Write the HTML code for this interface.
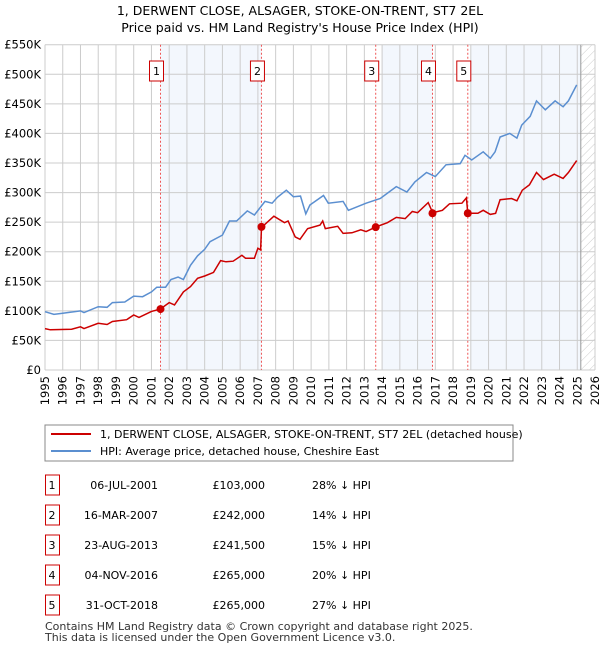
<!DOCTYPE html>
<html><head><meta charset="utf-8"><style>
body{margin:0;background:#fff;font-family:"Liberation Sans","DejaVu Sans",sans-serif;}
svg text{font-family:"DejaVu Sans","Liberation Sans",sans-serif;}
</style></head><body>
<svg id="c" width="600" height="650" xmlns="http://www.w3.org/2000/svg">
<defs><pattern id="hatch" width="6" height="6" patternUnits="userSpaceOnUse" patternTransform="rotate(45)"><line x1="0" y1="0" x2="0" y2="6" stroke="#ccc" stroke-width="1"/></pattern></defs>
<text x="300" y="15" text-anchor="middle" font-size="12.5" fill="#000">1, DERWENT CLOSE, ALSAGER, STOKE-ON-TRENT, ST7 2EL</text>
<text x="300" y="32" text-anchor="middle" font-size="12.5" fill="#000">Price paid vs. HM Land Registry's House Price Index (HPI)</text>
<g id="plot"></g>
<g>
<rect x="45" y="425" width="468" height="36" fill="#fff" stroke="#888"/>
<line x1="51" y1="434" x2="91" y2="434" stroke="#cc0000" stroke-width="2"/>
<text x="100" y="438" font-size="11">1, DERWENT CLOSE, ALSAGER, STOKE-ON-TRENT, ST7 2EL (detached house)</text>
<line x1="51" y1="451" x2="91" y2="451" stroke="#5b8fd0" stroke-width="2"/>
<text x="100" y="455" font-size="11">HPI: Average price, detached house, Cheshire East</text>
</g>
<g id="table"></g>
<text x="45" y="630" font-size="11" fill="#333">Contains HM Land Registry data © Crown copyright and database right 2025.</text>
<text x="45" y="641" font-size="11" fill="#333">This data is licensed under the Open Government Licence v3.0.</text>
</svg>
<script>
const yTicks=[0,50,100,150,200,250,300,350,400,450,500,550];
const yTickLabels=["£0","£50K","£100K","£150K","£200K","£250K","£300K","£350K","£400K","£450K","£500K","£550K"];
const years=[1995,1996,1997,1998,1999,2000,2001,2002,2003,2004,2005,2006,2007,2008,2009,2010,2011,2012,2013,2014,2015,2016,2017,2018,2019,2020,2021,2022,2023,2024,2025,2026];
const hpiT=[1995.0,1995.5,1996,1997,1997.2,1998,1998.5,1998.8,1999.5,2000,2000.5,2001,2001.3,2001.8,2002.1,2002.5,2002.8,2003.2,2003.6,2004,2004.3,2005,2005.4,2005.8,2006.4,2006.8,2007.4,2007.8,2008.1,2008.6,2009.0,2009.4,2009.7,2009.93,2010.7,2010.97,2011.8,2012.1,2013.1,2013.9,2014.8,2015.4,2015.85,2016.5,2017.0,2017.6,2018.4,2018.67,2019.05,2019.7,2020.1,2020.37,2020.65,2021.2,2021.6,2021.87,2022.35,2022.7,2023.2,2023.75,2024.2,2024.5,2024.97];
const hpiV=[98.6,94,96,100,97,107,106,114,115,125,124,132,140,140,153,157,153,177,193,204,217,228,252,252,269,262,285,282,292,304,293,294,264,279,295,282,285,270,282,290,310,301,318,334,327,347,349,363,355,369,358,369,394,400,392,414,429,455,440,455,445,455,482];
const ppT=[1995,1995.3,1996.5,1997,1997.2,1998,1998.5,1998.8,1999.6,2000,2000.3,2001,2001.5,2002,2002.3,2002.8,2003.2,2003.6,2004,2004.5,2004.9,2005.2,2005.6,2006.1,2006.3,2006.8,2007.0,2007.15,2007.2,2007.9,2008.5,2008.7,2009.1,2009.37,2009.8,2010.5,2010.65,2010.8,2011.5,2011.8,2012.3,2012.8,2013.1,2013.65,2014.3,2014.8,2015.3,2015.7,2016.0,2016.6,2016.85,2017.4,2017.8,2018.5,2018.75,2018.83,2019.4,2019.7,2020.1,2020.4,2020.65,2021.3,2021.6,2021.9,2022.3,2022.7,2023.1,2023.7,2024.2,2024.5,2024.97];
const ppV=[70,68,69,73,70,79,77,82,85,93,89,99,103,114,110,132,141,155,159,165,185,183,184,194,189,189,206,203,241,260,249,252,225,221,239,245,252,239,243,231,232,237,234,242,249,258,256,268,266,283,266,270,281,282,291,265,265,270,263,265,288,290,286,304,313,334,322,331,324,334,354];
const saleT=[2001.51,2007.2,2013.64,2016.84,2018.83];
const saleV=[103,242,241.5,265,265];
const saleLabels=["1","2","3","4","5"];
const saleDates=["06-JUL-2001","16-MAR-2007","23-AUG-2013","04-NOV-2016","31-OCT-2018"];
const salePrices=["£103,000","£242,000","£241,500","£265,000","£265,000"];
const saleDiffs=["28% ↓ HPI","14% ↓ HPI","15% ↓ HPI","20% ↓ HPI","27% ↓ HPI"];

const NS="http://www.w3.org/2000/svg";
const X0=45,X1=595,Y0=370,Y1=44.7;
const xs=t=>X0+(t-1995)/(2026-1995)*(X1-X0);
const ys=v=>Y0-v/550*(Y0-Y1);
function mk(tag,attrs,parent){const e=document.createElementNS(NS,tag);for(const k in attrs)e.setAttribute(k,attrs[k]);parent.appendChild(e);return e;}
const plot=document.getElementById('plot');
// shaded regions
const shades=[[saleT[0],saleT[1]],[2014.0,saleT[3]],[2019.0,2025.2]];
shades.forEach(s=>{const r=mk('rect',{x:xs(s[0]),y:Y1,width:xs(s[1])-xs(s[0]),height:Y0-Y1,fill:'#eef3fc',opacity:0.7},plot);

});
const hat=mk('rect',{x:xs(2025.2),y:Y1,width:X1-xs(2025.2),height:Y0-Y1,fill:'url(#hatch)'},plot);


// grid
years.forEach(y=>{const l=mk('line',{x1:xs(y),x2:xs(y),y1:Y1,y2:Y0,stroke:'#ccc','stroke-width':1},plot);


const t=mk('text',{x:0,y:0,'font-size':11.5,'text-anchor':'end',transform:`translate(${xs(y)+4},${Y0+6}) rotate(-90)`},plot);t.textContent=y;

});
yTicks.forEach((v,i)=>{const l=mk('line',{x1:X0,x2:X1,y1:ys(v),y2:ys(v),stroke:'#ccc','stroke-width':1},plot);


const t=mk('text',{x:X0-4,y:ys(v)+4,'font-size':11.5,'text-anchor':'end'},plot);t.textContent=yTickLabels[i];

});
const ed=mk('line',{x1:xs(2025.2),x2:xs(2025.2),y1:Y1,y2:Y0,stroke:'#999','stroke-width':1},plot);


// sale lines
saleT.forEach((t,i)=>{const l=mk('line',{x1:xs(t),x2:xs(t),y1:Y1,y2:Y0,stroke:'#ee5555','stroke-width':1,'stroke-dasharray':'2,2'},plot);

});
// lines
const pts=(T,V)=>T.map((t,i)=>xs(t).toFixed(1)+','+ys(V[i]).toFixed(1)).join(' ');
const hl=mk('polyline',{points:pts(hpiT,hpiV),fill:'none',stroke:'#5b8fd0','stroke-width':1.5},plot);


const pl=mk('polyline',{points:pts(ppT,ppV),fill:'none',stroke:'#cc0000','stroke-width':1.5},plot);


saleT.forEach((t,i)=>{const c=mk('circle',{cx:xs(t),cy:ys(saleV[i]),r:4,fill:'#cc0000'},plot);


const b=mk('rect',{x:xs(t)-11,y:61,width:14,height:20,fill:'#fff',stroke:'#cc0000'},plot);


const tx=mk('text',{x:xs(t)-4,y:75,'font-size':11,'text-anchor':'middle'},plot);tx.textContent=saleLabels[i];

});
// table
const tb=document.getElementById('table');
saleLabels.forEach((s,i)=>{const y=483+i*30;
const b=mk('rect',{x:45.5,y:y-8,width:14,height:20,fill:'#fff',stroke:'#cc0000'},tb);


const cols=[[52,s,'middle'],[158,saleDates[i],'end'],[265,salePrices[i],'end'],[312,saleDiffs[i],'start']];
cols.forEach((c,j)=>{const t=mk('text',{x:c[0],y:y+6,'font-size':11,'text-anchor':c[2]},tb);t.textContent=c[1];

});});
</script>
</body></html>
